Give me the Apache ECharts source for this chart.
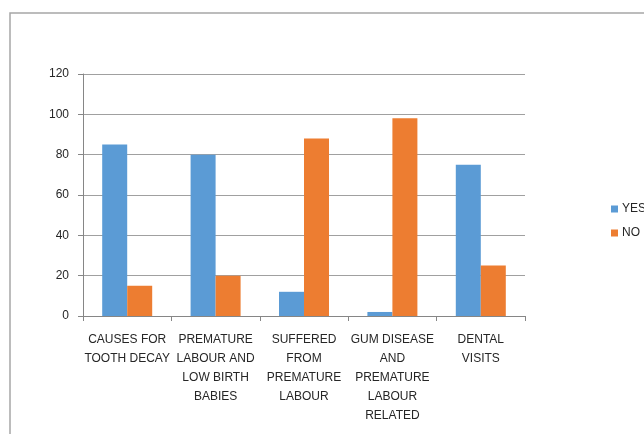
<!DOCTYPE html>
<html>
<head>
<meta charset="utf-8">
<script src="https://cdn.jsdelivr.net/npm/echarts@6/dist/echarts.min.js"></script>
<style>
html,body{margin:0;padding:0;background:#fff;}
#c{width:644px;height:434px;}
</style>
</head>
<body>
<div id="c"></div>
<script>
var categories = [
  "CAUSES FOR\nTOOTH DECAY",
  "PREMATURE\nLABOUR AND\nLOW BIRTH\nBABIES",
  "SUFFERED\nFROM\nPREMATURE\nLABOUR",
  "GUM DISEASE\nAND\nPREMATURE\nLABOUR\nRELATED",
  "DENTAL\nVISITS"
];
var yesValues = [85, 80, 12, 2, 75];
var noValues = [15, 20, 88, 98, 25];
var yTicks = [0, 20, 40, 60, 80, 100, 120];

var font = "'Liberation Sans', Arial, sans-serif";
var chart = echarts.init(document.getElementById('c'), null, {renderer: 'canvas'});
chart.setOption({
  animation: false,
  textStyle: {fontFamily: font},
  graphic: [{
    type: 'rect',
    shape: {x: 10, y: 13, width: 800, height: 600},
    style: {fill: 'none', stroke: '#a6a6a6', lineWidth: 1.5},
    silent: true
  }],
  grid: {left: 83, right: 119, top: 74, bottom: 118, containLabel: false},
  legend: {
    orient: 'vertical',
    left: 606,
    top: 198,
    itemWidth: 7,
    itemHeight: 7,
    itemGap: 12,
    icon: 'rect',
    textStyle: {fontSize: 12, color: '#262626', fontFamily: font, padding: [0, 0, 0, -1]},
    data: ['YES', 'NO']
  },
  xAxis: {
    type: 'category',
    data: categories,
    axisLine: {lineStyle: {color: '#868686', width: 1}},
    axisTick: {show: true, length: 5, lineStyle: {color: '#868686'}},
    axisLabel: {
      interval: 0, margin: 14, fontSize: 12, lineHeight: 19,
      color: '#262626', fontFamily: font
    }
  },
  yAxis: {
    type: 'value',
    min: 0, max: 120, interval: 20,
    axisLine: {show: true, lineStyle: {color: '#868686'}},
    axisTick: {show: true, length: 5, lineStyle: {color: '#868686'}},
    splitLine: {lineStyle: {color: '#a0a0a0', width: 1}},
    axisLabel: {
      margin: 14, fontSize: 12, color: '#262626', fontFamily: font,
      formatter: function (v) { return yTicks.indexOf(v) >= 0 ? String(v) : ''; }
    }
  },
  series: [
    {name: 'YES', type: 'bar', data: yesValues, barWidth: 25, barGap: '0%',
      itemStyle: {color: '#5B9BD5'}},
    {name: 'NO', type: 'bar', data: noValues, barWidth: 25, barGap: '0%',
      itemStyle: {color: '#ED7D31'}}
  ]
});
</script>
</body>
</html>
